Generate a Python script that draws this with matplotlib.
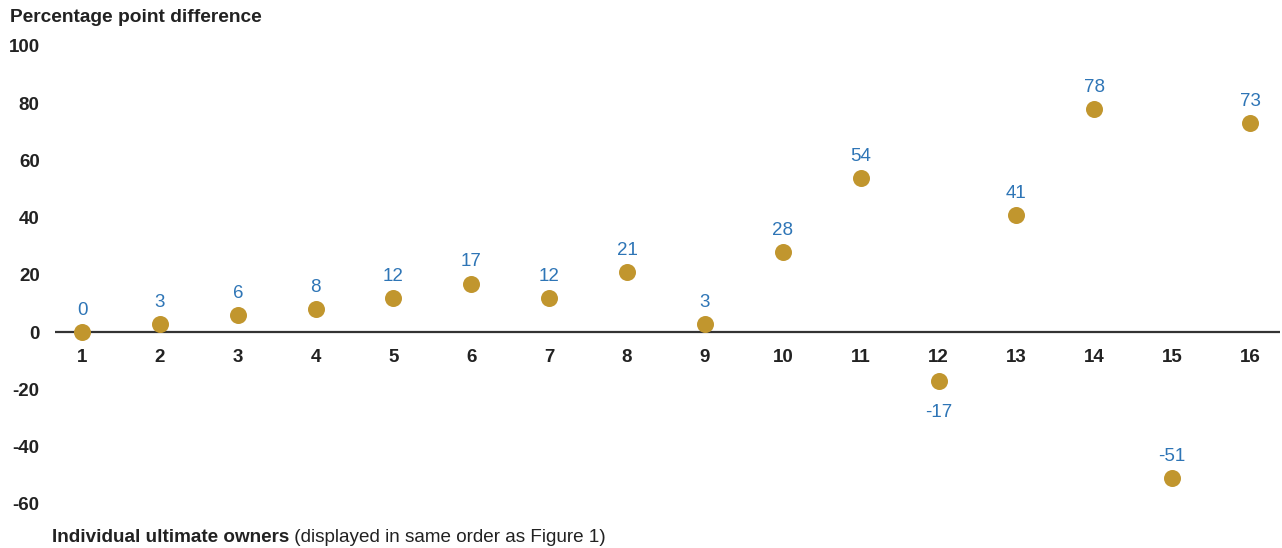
import matplotlib
matplotlib.use("Agg")
import matplotlib.pyplot as plt

owners = list(range(1, 17))
values = [0, 3, 6, 8, 12, 17, 12, 21, 3, 28, 54, -17, 41, 78, -51, 73]
yticks = [100, 80, 60, 40, 20, 0, -20, -40, -60]
# label placement relative to the dot (style)
label_below = [False] * 11 + [True] + [False] * 4

plt.rcParams['font.family'] = ['Liberation Sans', 'DejaVu Sans']

W, H = 1282, 548
fig = plt.figure(figsize=(W / 100, H / 100), dpi=100)
left, right = 55 / W, 1280 / W
top, bottom = 1 - 46 / H, 1 - 511 / H
ax = fig.add_axes([left, bottom, right - left, top - bottom])

ax.set_xlim(0.653, 16.385)
ax.set_ylim(-62.5, 100)

for s in ax.spines.values():
    s.set_visible(False)
ax.axhline(0, color='#333333', lw=1.6, zorder=1)

ax.scatter(owners, values, s=150, color='#C1962E', zorder=3, linewidths=0)

for x, v, below in zip(owners, values, label_below):
    off = -22.5 if below else 15.5
    ax.annotate(str(v), (x, v), xytext=(0, off), textcoords='offset points',
                ha='center', va='center', color='#2E75B6', fontsize=13.5)

# x tick labels just below zero line
for x in owners:
    ax.annotate(str(x), (x, 0), xytext=(0, -18.5), textcoords='offset points',
                ha='center', va='center', fontsize=13.5, fontweight='bold', color='#222222')

ax.set_xticks([])
ax.set_yticks(yticks)
ax.set_yticklabels([str(t) for t in yticks], fontsize=13.5, fontweight='bold', color='#222222')
ax.tick_params(axis='y', length=0, pad=11)

fig.text(10 / W, 1 - 18 / H, 'Percentage point difference', fontsize=13.8,
         fontweight='bold', ha='left', va='center', color='#222222')

t1 = fig.text(52 / W, 1 - 537 / H, 'Individual ultimate owners', fontsize=13.6,
              fontweight='bold', ha='left', va='center', color='#222222')
fig.canvas.draw()
bb = t1.get_window_extent()
fig.text(bb.x1 / W, 1 - 537 / H, ' (displayed in same order as Figure 1)', fontsize=13.6,
         ha='left', va='center', color='#222222')

fig.savefig('out.png', dpi=100)
